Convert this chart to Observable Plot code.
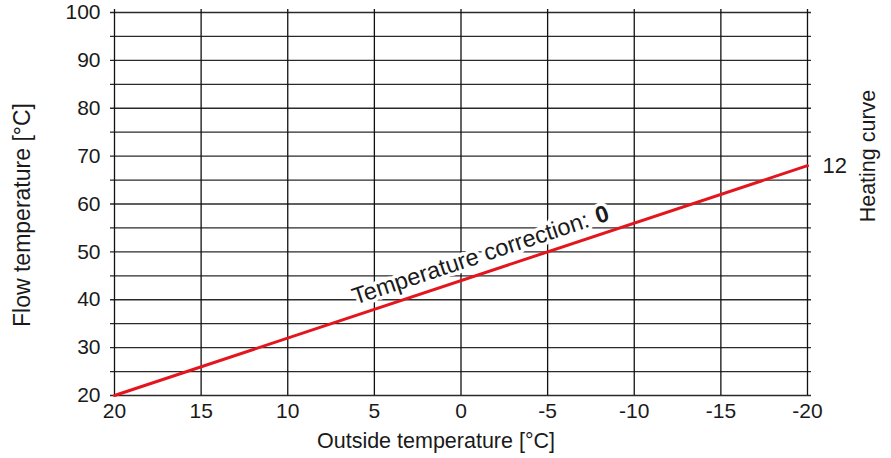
<!DOCTYPE html>
<html>
<head>
<meta charset="utf-8">
<script src="https://cdn.jsdelivr.net/npm/d3@7"></script>
<script src="https://cdn.jsdelivr.net/npm/@observablehq/plot@0.6"></script>
<style>
  html, body { margin: 0; padding: 0; background: #fff; }
  #chart svg { display: block; }
</style>
</head>
<body>
<div id="chart"></div>
<script>
// ---- data ----
const outsideTemp = [20, -20];          // °C
const flowTemp = [20, 68];              // °C (heating curve 12, correction 0)
const xTicks = [20, 15, 10, 5, 0, -5, -10, -15, -20];
const yLabelTicks = [20, 30, 40, 50, 60, 70, 80, 90, 100];
const yGridLines = [20, 25, 30, 35, 40, 45, 50, 55, 60, 65, 70, 75, 80, 85, 90, 95, 100];
const curveName = "12";
const correctionText = "Temperature correction:";
const correctionValue = "0";
const correctionAtX = [-7.9];           // where the annotation joins along the curve
const xLabel = "Outside temperature [°C]";
const yLabel = "Flow temperature [°C]";
const rightLabel = "Heating curve";

// ---- layout ----
const W = 891, H = 458;
const mL = 114, mR = 84, mT = 12, mB = 63;
const FONT = "'Liberation Sans', Arial, Helvetica, sans-serif";
const RED = "#e3161e";
const GRID = "#2a2a2a";
const INK = "#1a1a1a";

const curve = outsideTemp.map((x, i) => ({x, y: flowTemp[i]}));

// slope angle of the curve in pixels
const xs = d3.scaleLinear([20, -20], [mL, W - mR]);
const ys = d3.scaleLinear([20, 100], [H - mB, mT]);
const lerp = (x) => flowTemp[0] + (flowTemp[1] - flowTemp[0]) * (x - outsideTemp[0]) / (outsideTemp[1] - outsideTemp[0]);
const pdx = xs(outsideTemp[1]) - xs(outsideTemp[0]);
const pdy = ys(flowTemp[1]) - ys(flowTemp[0]);
const theta = Math.atan2(pdy, pdx); // negative (up-right)
const deg = theta * 180 / Math.PI;
const c = Math.cos(theta), s = Math.sin(theta);
const normalOff = 18; // px above line
const nx = s * normalOff, ny = -c * normalOff; // normal pointing up-left
const gap = 4;

const ann = correctionAtX.map(x => ({x, y: lerp(x)}));

const chart = Plot.plot({
  width: W,
  height: H,
  marginLeft: mL,
  marginRight: mR,
  marginTop: mT,
  marginBottom: mB,
  style: {fontFamily: FONT, fontSize: "21px", color: INK, background: "#fff"},
  x: {domain: [20, -20], label: null},
  y: {domain: [20, 100], label: null},
  marks: [
    Plot.ruleY(yGridLines, {stroke: GRID, strokeWidth: 1.3, insetLeft: -4, insetRight: -4}),
    Plot.ruleX(xTicks, {stroke: "#111", strokeWidth: 1.3, insetTop: -3}),
    Plot.line(curve, {x: "x", y: "y", stroke: RED, strokeWidth: 3}),
    Plot.text(ann, {
      x: "x", y: "y", text: () => correctionText,
      rotate: deg, textAnchor: "end", lineAnchor: "middle",
      dx: nx - c * gap, dy: ny - s * gap,
      fontSize: 23.5, fill: INK, stroke: "white", strokeWidth: 7
    }),
    Plot.text(ann, {
      x: "x", y: "y", text: () => correctionValue,
      rotate: deg, textAnchor: "start", lineAnchor: "middle",
      dx: nx + c * gap, dy: ny + s * gap,
      fontSize: 23.5, fontWeight: "bold", fill: INK, stroke: "white", strokeWidth: 7
    }),
    Plot.text([curve[curve.length - 1]], {
      x: "x", y: "y", text: () => curveName,
      textAnchor: "start", lineAnchor: "middle", dx: 15, dy: 0, fontSize: 22, fill: INK
    }),
    Plot.axisX(xTicks, {tickSize: 0, tickPadding: 8, fontSize: 21, label: null, fill: INK, tickFormat: d => String(d)}),
    Plot.axisY(yLabelTicks, {tickSize: 0, tickPadding: 14, fontSize: 21, label: null, fill: INK, tickFormat: d => String(d)}),
    Plot.text([xLabel], {
      frameAnchor: "bottom", text: d => d, dx: -25, dy: 46, textAnchor: "middle", lineAnchor: "middle",
      fontSize: 21.5, fill: INK
    }),
    Plot.text([yLabel], {
      frameAnchor: "left", text: d => d, rotate: -90, dx: -92, dy: 11, textAnchor: "middle", lineAnchor: "middle",
      fontSize: 23, fill: INK
    }),
    Plot.text([rightLabel], {
      frameAnchor: "right", text: d => d, rotate: -90, dx: 61, dy: -48, textAnchor: "middle", lineAnchor: "middle",
      fontSize: 21.5, fill: INK
    })
  ]
});

document.getElementById("chart").appendChild(chart);
</script>
</body>
</html>
